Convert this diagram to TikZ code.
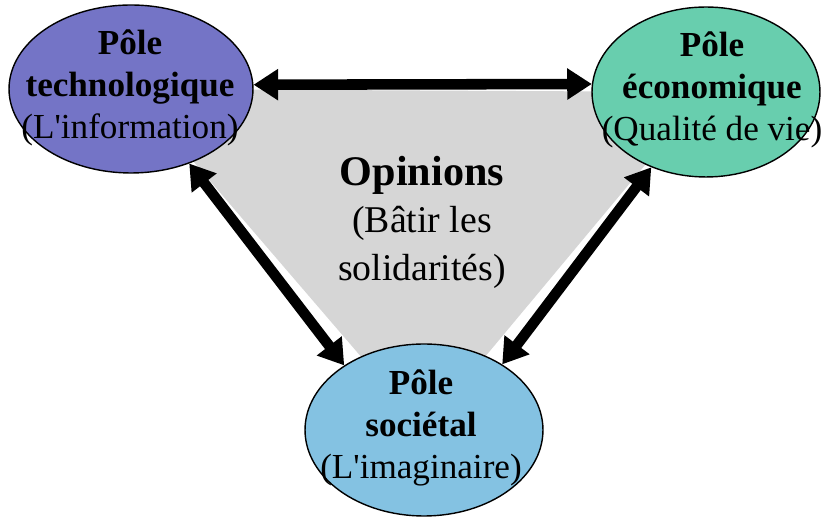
\documentclass[tikz,border=0pt]{standalone}
\usepackage{fontspec}
\setmainfont{Liberation Serif}
\usepackage{xcolor}
\usepackage{tikz}
\usetikzlibrary{shapes.geometric}
\usetikzlibrary{arrows.meta}

\definecolor{techblue}{RGB}{116,116,198}
\definecolor{ecogreen}{RGB}{104,206,174}
\definecolor{socblue}{RGB}{132,194,226}
\definecolor{opiniongray}{RGB}{214,214,214}

\begin{document}
\begin{tikzpicture}[x=0.02cm,y=-0.02cm,
    pole/.style={draw,line width=0.8pt,ellipse,inner sep=0pt},
    poletext/.style={align=center,font=\fontsize{20}{24}\selectfont},
    biarrow/.style={line width=6pt,{Triangle[length=14pt,width=17pt]}-{Triangle[length=14pt,width=17pt]}}]
    \useasboundingbox (0,0) rectangle (825,519);
    \coordinate (ctech) at (131,89);
    \coordinate (ceco) at (706,92);
    \coordinate (csoc) at (424,430);
    \fill[opiniongray] (ctech) -- (ceco) -- (csoc) -- cycle;
    \node[pole,fill=techblue,minimum width=4.88cm,minimum height=3.36cm] (tech) at (ctech) {};
    \node[pole,fill=ecogreen,minimum width=4.56cm,minimum height=3.4cm] (eco) at (ceco) {};
    \node[pole,fill=socblue,minimum width=4.76cm,minimum height=3.44cm] (soc) at (csoc) {};
    \draw[biarrow] (tech.2) -- (eco.176);
    \draw[biarrow] (tech.-52) -- (soc.141);
    \draw[biarrow] (eco.-126) -- (soc.40);
    \node[poletext] (techlabel) at (130,88) {\textbf{Pôle}\\\textbf{technologique}\\(L\textquotesingle information)};
    \node[poletext] (ecolabel) at (712,90) {\textbf{Pôle}\\\textbf{économique}\\(Qualité de vie)};
    \node[poletext] (soclabel) at (421,428) {\textbf{Pôle}\\\textbf{sociétal}\\(L\textquotesingle imaginaire)};
    \node[align=center,font=\fontsize{21.5}{27}\selectfont] (opinions) at (422,222)
      {{\fontsize{24}{27}\selectfont\bfseries Opinions}\\(Bâtir les\\solidarités)};
\end{tikzpicture}
\end{document}
